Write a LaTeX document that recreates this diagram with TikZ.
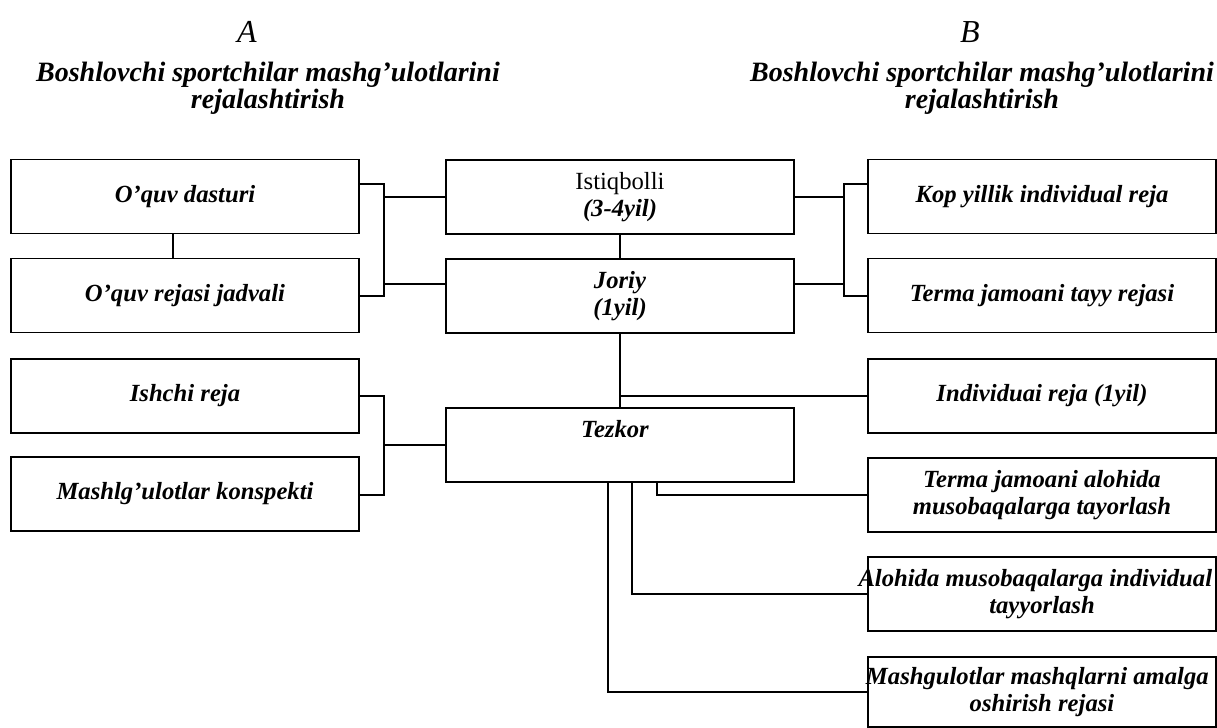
\documentclass[tikz,border=0pt]{standalone}
\usepackage{fontspec}
\setmainfont{Liberation Serif}
\tikzset{
  box/.style={draw, line width=1.45pt, minimum width=261pt, minimum height=55.5pt, inner sep=0pt, align=center, font=\fontsize{18.5}{20.5}\selectfont\bfseries\itshape},
  boxtext/.style={inner sep=0pt, font=\fontsize{18.5}{20.5}\selectfont\bfseries\itshape},
  conn/.style={line width=1.45pt},
  title/.style={align=center, inner sep=0pt, font=\fontsize{21}{20.5}\selectfont\bfseries\itshape},
  letter/.style={inner sep=0pt, font=\fontsize{24}{26}\selectfont\itshape}
}
\begin{document}
\begin{tikzpicture}[x=0.75pt,y=-0.75pt]
\useasboundingbox (0,0) rectangle (1217,728);
% titles
\node[letter] (A) at (247,32) {A};
\node[letter] (B) at (970,32) {B};
\node[title] (tA) at (268,88) {Boshlovchi sportchilar mashg’ulotlarini\\rejalashtirish};
\node[title] (tB) at (982,88) {Boshlovchi sportchilar mashg’ulotlarini\\rejalashtirish};
% left column
\node[box] (dast) at (185,196.5) {O’quv dasturi};
\node[box] (jadv) at (185,295.5) {O’quv rejasi jadvali};
\node[box] (ish) at (185,396) {Ishchi reja};
\node[box] (konsp) at (185,494) {Mashlg’ulotlar konspekti};
% center column
\node[box] (ist) at (620,197) {{\mdseries\upshape Istiqbolli}\\(3-4yil)};
\node[box] (jor) at (620,296) {Joriy\\(1yil)};
\node[box] (tez) at (620,445) {};
\node[boxtext] (tezt) at (615,429) {Tezkor};
% right column
\node[box] (kop) at (1042,196.5) {Kop yillik individual reja};
\node[box] (tayy) at (1042,295.5) {Terma jamoani tayy rejasi};
\node[box] (indiv) at (1042,396) {Individuai reja (1yil)};
\node[box] (alo) at (1042,495) {Terma jamoani alohida\\musobaqalarga tayorlash};
\node[box] (aloi) at (1042,594) {\makebox[240pt]{Alohida musobaqalarga individual\hspace{10pt}}\\tayyorlash};
\node[box, minimum height=52.5pt] (mash) at (1042,692) {\makebox[240pt]{Mashgulotlar mashqlarni amalga\hspace{7pt}}\\oshirish rejasi};
% helper coordinates
\coordinate (C1) at (173,0);
\coordinate (L1) at (384,184);
\coordinate (L2) at (384,296);
\coordinate (L3) at (384,284);
\coordinate (R1) at (844,184);
\coordinate (R2) at (844,296);
\coordinate (R3) at (844,284);
\coordinate (L4) at (384,396);
\coordinate (L5) at (384,495);
\coordinate (T1) at (657,495);
\coordinate (T2) at (632,594);
\coordinate (T3) at (608,692);
% connectors
\draw[conn] (dast.south -| C1) -- (jadv.north -| C1);
\draw[conn] (dast.east |- L1) -- (L1) -- (L2) -- (jadv.east |- L2);
\draw[conn] (ist.west) -- (ist.west -| L1);
\draw[conn] (jor.west |- L3) -- (L3);
\draw[conn] (ist.south) -- (jor.north);
\draw[conn] (kop.west |- R1) -- (R1) -- (R2) -- (tayy.west |- R2);
\draw[conn] (ist.east) -- (ist.east -| R1);
\draw[conn] (jor.east |- R3) -- (R3);
\draw[conn] (ish.east) -- (L4) -- (L5) -- (konsp.east |- L5);
\draw[conn] (tez.west) -- (tez.west -| L4);
\draw[conn] (jor.south) -- (tez.north);
\draw[conn] (indiv.west -| jor.south) -- (indiv.west);
\draw[conn] (tez.south -| T1) -- (T1) -- (alo.west);
\draw[conn] (tez.south -| T2) -- (T2) -- (aloi.west);
\draw[conn] (tez.south -| T3) -- (T3) -- (mash.west);
\end{tikzpicture}
\end{document}
